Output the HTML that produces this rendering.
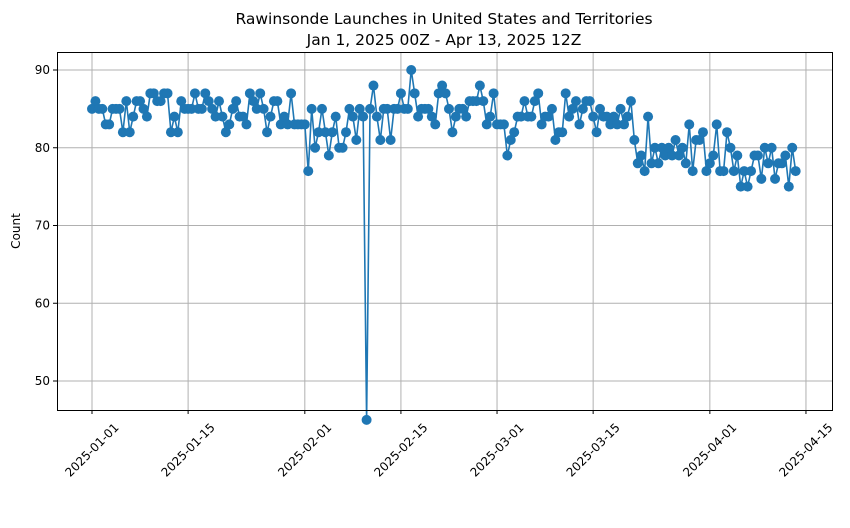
<!DOCTYPE html>
<html><head><meta charset="utf-8"><style>
body{margin:0;background:#fff;font-family:"DejaVu Sans","Liberation Sans",sans-serif}
svg text{font-family:"DejaVu Sans","Liberation Sans",sans-serif}
</style></head><body>
<svg id="chart" width="850" height="524" viewBox="0 0 850 524" xmlns="http://www.w3.org/2000/svg">
<text x="444" y="24" text-anchor="middle" font-size="15.5" fill="#000">Rawinsonde Launches in United States and Territories</text>
<text x="444" y="45" text-anchor="middle" font-size="15.5" fill="#000">Jan 1, 2025 00Z - Apr 13, 2025 12Z</text>
<g id="grid"></g>
<g id="series"></g>
<rect x="57.5" y="52.5" width="775" height="358" fill="none" stroke="#000" stroke-width="1"/>
<g id="axes"></g>
<text transform="translate(20,231) rotate(-90)" text-anchor="middle" font-size="12">Count</text>
</svg>
<script>
const counts=[85,86,85,85,83,83,85,85,85,82,86,82,84,86,86,85,84,87,87,86,86,87,87,82,84,82,86,85,85,85,
87,85,85,87,86,85,84,86,84,82,83,85,86,84,84,83,87,86,85,87,85,82,84,86,86,83,84,83,87,83,83,83,
83,77,85,80,82,85,82,79,82,84,80,80,82,85,84,81,85,84,45,85,88,84,81,85,85,81,85,85,87,85,85,90,
87,84,85,85,85,84,83,87,88,87,85,82,84,85,85,84,86,86,86,88,86,83,84,87,83,83,83,79,81,82,84,84,
86,84,84,86,87,83,84,84,85,81,82,82,87,84,85,86,83,85,86,86,84,82,85,84,84,83,84,83,85,83,84,86,
81,78,79,77,84,78,80,78,80,79,80,79,81,79,80,78,83,77,81,81,82,77,78,79,83,77,77,82,80,77,79,75,
77,75,77,79,79,76,80,78,80,76,78,78,79,75,80,77];
const yTicks=[50,60,70,80,90];
const xTickLabels=["2025-01-01","2025-01-15","2025-02-01","2025-02-15","2025-03-01","2025-03-15","2025-04-01","2025-04-15"];
const xTickDays=[0,14,31,45,59,73,90,104];
const NS="http://www.w3.org/2000/svg";
const xs=d=>92+d*6.865;
const ys=v=>70+(90-v)*7.775;
const grid=document.getElementById('grid'),axes=document.getElementById('axes'),ser=document.getElementById('series');
function mk(tag,attrs,parent){const e=document.createElementNS(NS,tag);for(const k in attrs)e.setAttribute(k,attrs[k]);parent.appendChild(e);return e;}
yTicks.forEach(t=>{const y=ys(t);
const g=mk('line',{x1:57,x2:832,y1:y,y2:y,stroke:'#b0b0b0','stroke-width':1},grid);


const tk=mk('line',{x1:53,x2:57,y1:y,y2:y,stroke:'#000'},axes);


const tx=mk('text',{x:50,y:y+4,'text-anchor':'end','font-size':12},axes);tx.textContent=t;


});
xTickDays.forEach((d,i)=>{const x=xs(d);
const g=mk('line',{x1:x,x2:x,y1:52,y2:410,stroke:'#b0b0b0','stroke-width':1},grid);


const tk=mk('line',{x1:x,x2:x,y1:410,y2:414,stroke:'#000'},axes);


const tx=mk('text',{transform:`translate(${x},${450}) rotate(-45)`,'text-anchor':'middle','font-size':12,dy:4},axes);tx.textContent=xTickLabels[i];


});
const pts=counts.map((v,i)=>[xs(i*0.5),ys(v)]);
const pl=mk('polyline',{points:pts.map(p=>p.join(',')).join(' '),fill:'none',stroke:'#1f77b4','stroke-width':1.6},ser);


pts.forEach(p=>{const c=mk('circle',{cx:p[0],cy:p[1],r:5,fill:'#1f77b4'},ser);


});
</script>
</body></html>
